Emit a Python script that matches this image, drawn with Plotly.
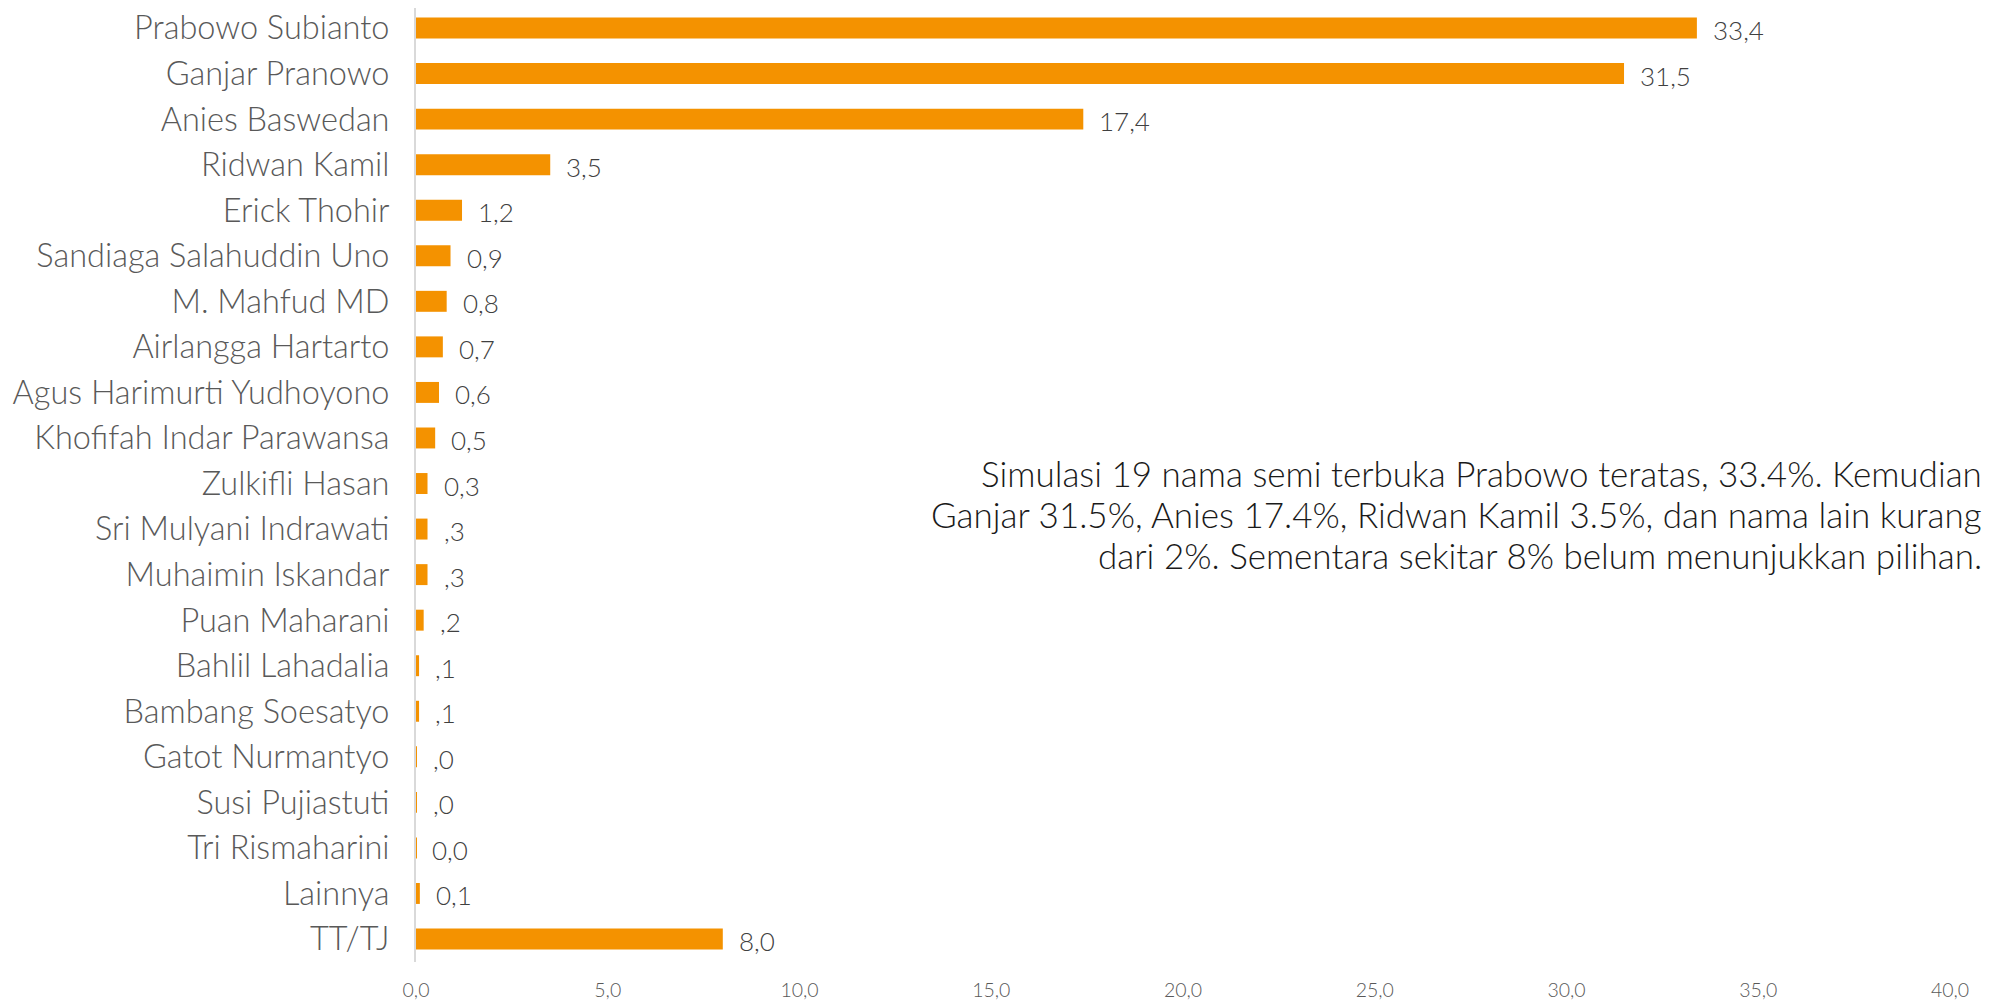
import plotly.graph_objects as go

categories = ["Prabowo Subianto", "Ganjar Pranowo", "Anies Baswedan", "Ridwan Kamil",
              "Erick Thohir", "Sandiaga Salahuddin Uno", "M. Mahfud MD", "Airlangga Hartarto",
              "Agus Harimurti Yudhoyono", "Khofifah Indar Parawansa", "Zulkifli Hasan",
              "Sri Mulyani Indrawati", "Muhaimin Iskandar", "Puan Maharani", "Bahlil Lahadalia",
              "Bambang Soesatyo", "Gatot Nurmantyo", "Susi Pujiastuti", "Tri Rismaharini",
              "Lainnya", "TT/TJ"]
values = [33.4, 31.5, 17.4, 3.5, 1.2, 0.9, 0.8, 0.7, 0.6, 0.5, 0.3, 0.3, 0.3, 0.2,
          0.08, 0.08, 0.02, 0.02, 0.01, 0.1, 8.0]
value_labels = ["33,4", "31,5", "17,4", "3,5", "1,2", "0,9", "0,8", "0,7", "0,6", "0,5",
                "0,3", ",3", ",3", ",2", ",1", ",1", ",0", ",0", "0,0", "0,1", "8,0"]
x_tickvals = [0, 5, 10, 15, 20, 25, 30, 35, 40]
x_ticktext = ["0,0", "5,0", "10,0", "15,0", "20,0", "25,0", "30,0", "35,0", "40,0"]
note_lines = ["Simulasi 19 nama semi terbuka Prabowo teratas, 33.4%. Kemudian",
              "Ganjar 31.5%, Anies 17.4%, Ridwan Kamil 3.5%, dan nama lain kurang",
              "dari 2%. Sementara sekitar 8% belum menunjukkan pilihan."]

FONT = "Lato"
BAR = "#F49200"

fig = go.Figure()
fig.add_trace(go.Bar(
    x=values, y=categories, orientation="h",
    marker=dict(color=BAR, line=dict(width=0)),
    hoverinfo="skip",
))

for c, v, t in zip(categories, values, value_labels):
    fig.add_annotation(x=v, y=c, xref="x", yref="y", text=t, showarrow=False,
                       xanchor="left", yanchor="middle", xshift=14, yshift=-2,
                       font=dict(family=FONT, size=26, color="#404040", weight=300))

note_y = [0.5126, 0.4696, 0.4266]
for line, yy in zip(note_lines, note_y):
    fig.add_annotation(x=1.022, y=yy, xref="paper", yref="paper", text=line,
                       showarrow=False, xanchor="right", yanchor="middle", align="right",
                       font=dict(family=FONT, size=35, color="#1a1a1a", weight=300))

fig.update_layout(
    width=1990, height=1000,
    margin=dict(l=408, r=48, t=0, b=46),
    plot_bgcolor="white", paper_bgcolor="white",
    bargap=0.54,
    showlegend=False,
    font=dict(family=FONT, color="#595959"),
)
fig.update_xaxes(range=[0, 40], tickvals=x_tickvals, ticktext=x_ticktext,
                 showgrid=False, zeroline=False, showline=False,
                 tickfont=dict(family=FONT, size=19.5, color="#595959", weight=300),
                 ticklabelstandoff=14)
fig.update_yaxes(range=[20.505, -0.44], showgrid=False, zeroline=False,
                 showline=True, linecolor="#D9D9D9", linewidth=2,
                 tickfont=dict(family=FONT, size=32.5, color="#595959", weight=300),
                 ticklabelstandoff=18)

fig.write_html("out.html")
